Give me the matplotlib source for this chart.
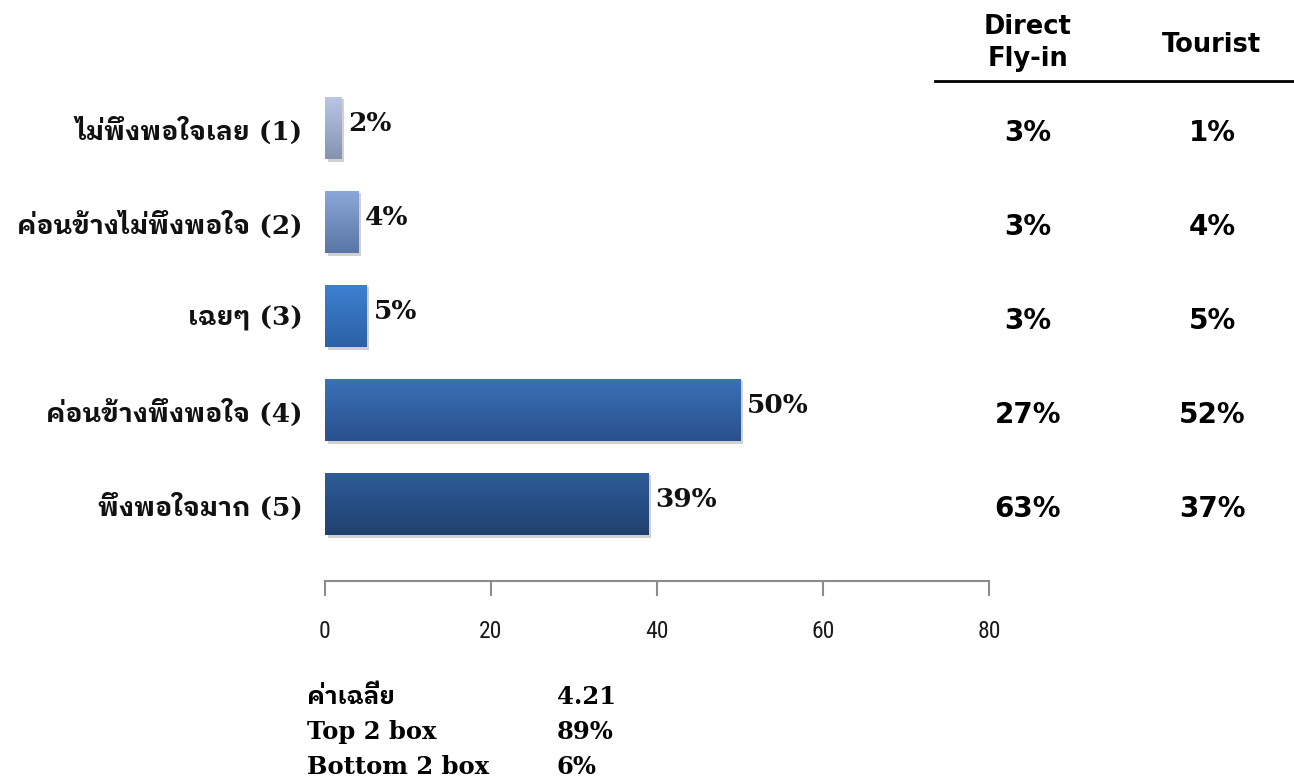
import matplotlib
matplotlib.use("Agg")
import numpy as np
import matplotlib.pyplot as plt
import matplotlib.patheffects as pe
from matplotlib import font_manager
from matplotlib.colors import LinearSegmentedColormap
from matplotlib.lines import Line2D
from matplotlib.transforms import blended_transform_factory

# ---- data ----
categories = ["ไม่พึงพอใจเลย (1)", "ค่อนข้างไม่พึงพอใจ (2)", "เฉยๆ (3)",
              "ค่อนข้างพึงพอใจ (4)", "พึงพอใจมาก (5)"]
total = [2, 4, 5, 50, 39]
direct_fly_in = [3, 3, 3, 27, 63]
tourist = [1, 4, 5, 52, 37]
table_headers = ["Direct\nFly-in", "Tourist"]
x_ticks = [0, 20, 40, 60, 80]
stat_names = ["ค่าเฉลี่ย", "Top 2 box", "Bottom 2 box"]
stat_values = ["4.21", "89%", "6%"]

# gradient colours per bar (top, bottom)
bar_colors = [("#b9c7e4", "#8593b0"), ("#8ca7d9", "#5a76a4"), ("#3d80d2", "#2c62a5"),
              ("#3a71b8", "#2a508e"), ("#2f5c99", "#1f416f")]

# Thai glyphs: a looped Thai face with a real bold cut
installed = {f.name for f in font_manager.fontManager.ttflist}
thai = next((n for n in ["IBM Plex Sans Thai Looped", "Sarabun", "Noto Sans Thai Looped", "Loma"]
             if n in installed), "DejaVu Sans")

W, H = 1294, 778
fig = plt.figure(figsize=(W / 100, H / 100), dpi=100)

# axes placed so rows sit where the reference has them
ax_left, ax_right = 325 / W, 989 / W
ax_bottom, ax_top = 1 - 581 / H, 1 - 60 / H
ax = fig.add_axes([ax_left, ax_bottom, ax_right - ax_left, ax_top - ax_bottom])

ypos = np.arange(len(categories))
bars = ax.barh(ypos, total, height=0.67, color=[c[1] for c in bar_colors], zorder=2,
               path_effects=[pe.SimplePatchShadow(offset=(2, -2), shadow_rgbFace="#999999", alpha=0.45),
                             pe.Normal()])

grad = np.linspace(0, 1, 64).reshape(-1, 1)
for b, (c_top, c_bot) in zip(bars, bar_colors):
    cmap = LinearSegmentedColormap.from_list("g", [c_top, c_bot])
    x0, y0, w, h = b.get_x(), b.get_y(), b.get_width(), b.get_height()
    im = ax.imshow(grad, cmap=cmap, aspect="auto", origin="upper",
                   extent=(x0, x0 + w, y0 + h, y0), zorder=3, interpolation="bilinear")
    im.set_clip_path(b)

for b, v in zip(bars, total):
    ax.annotate(f"{v}%", (b.get_width(), b.get_y() + b.get_height() / 2),
                xytext=(5, 3), textcoords="offset points", ha="left", va="center",
                fontsize=19, fontweight="bold", family=["DejaVu Serif"], color="#111111")

ax.set_xlim(0, 80)
ax.set_ylim(4 + 77 / 94, -68 / 94)
ax.set_xticks(x_ticks)
ax.set_xticklabels([str(t) for t in x_ticks],
                   family=["Roboto Condensed", "PT Sans Narrow", "DejaVu Sans"],
                   fontsize=17, color="#1a1a1a")
ax.tick_params(axis="x", direction="out", length=11, width=1.5, color="#8c8c8c", pad=17)
ax.set_yticks(ypos)
ax.set_yticklabels(categories, family=["DejaVu Serif", thai], fontsize=19, fontweight="bold",
                   color="#111111")
ax.tick_params(axis="y", length=0, pad=16)
for s in ["top", "right", "left"]:
    ax.spines[s].set_visible(False)
ax.spines["bottom"].set_color("#8c8c8c")
ax.spines["bottom"].set_linewidth(1.5)
ax.patch.set_visible(False)

# ---- comparison table on the right ----
tr = blended_transform_factory(fig.transFigure, ax.transData)
col_x = [1028 / W, 1212 / W]
fig.text(col_x[0], 1 - 43 / H, table_headers[0], ha="center", va="center", fontsize=18.5,
         fontweight="bold", linespacing=1.25, family="DejaVu Sans")
fig.text(col_x[1], 1 - 45 / H, table_headers[1], ha="center", va="center", fontsize=18.5,
         fontweight="bold", family="DejaVu Sans")
fig.add_artist(Line2D([935 / W, 1.0], [1 - 81 / H] * 2, transform=fig.transFigure,
                      color="black", lw=2))
for i in range(len(categories)):
    for cx, series in zip(col_x, [direct_fly_in, tourist]):
        ax.text(cx, ypos[i] + 0.05, f"{series[i]}%", transform=tr, ha="center", va="center",
                fontsize=20, fontweight="bold", family="DejaVu Sans")

# ---- summary stats below ----
for k, (name, val) in enumerate(zip(stat_names, stat_values)):
    yy = 1 - (697 + 35 * k) / H
    fig.text(307 / W, yy, name, ha="left", va="center", fontsize=17.5, fontweight="bold",
             family=["DejaVu Serif", thai])
    fig.text(557 / W, yy, val, ha="left", va="center", fontsize=17.5, fontweight="bold",
             family=["DejaVu Serif", thai])

fig.savefig("out.png", dpi=100)
